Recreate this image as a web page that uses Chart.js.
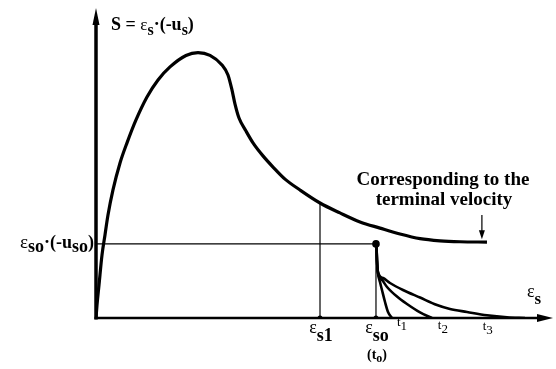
<!DOCTYPE html>
<html><head><meta charset="utf-8">
<script src="https://cdn.jsdelivr.net/npm/chart.js@4/dist/chart.umd.min.js"></script>
<style>html,body{margin:0;padding:0;background:#fff;}#wrap{width:556px;height:369px;}</style>
</head><body><div id="wrap"><canvas id="c" width="556" height="369"></canvas></div>
<script>
// Main curve S = εs·(-us) vs εs (schematic units 0..100)
const mainX = [0, 0.22, 0.66, 1.32, 1.98, 2.64, 3.74, 5.29, 6.83, 8.81, 11.23, 13.66, 16.3, 19.82, 22.47, 25.11, 27.75, 29.07, 29.96, 30.62, 31.5, 33.04, 34.58, 36.78, 38.99, 41.63, 44.93, 49.34, 53.74, 58.15, 62.56, 66.96, 71.37, 75.77, 80.18, 86.12];
const mainY = [0, 4.19, 10.65, 20.3, 26.8, 33.2, 41.3, 50.0, 56.5, 63.9, 71.3, 76.8, 81.0, 84.7, 85.6, 84.7, 81.6, 78.4, 73.5, 69.0, 64.5, 60.3, 56.5, 52.3, 48.7, 44.8, 41.3, 37.1, 33.9, 31.0, 29.0, 27.1, 25.6, 24.9, 24.6, 24.5];
// Decay curves at times t1, t2, t3
const t1X = [61.78, 61.89, 62.11, 62.55, 62.99, 63.66, 64.32, 65.2];
const t1Y = [23.55, 18.71, 14.52, 11.61, 9.03, 5.16, 1.94, 0];
const t2X = [61.78, 61.89, 62.11, 62.99, 64.1, 66.3, 68.5, 71.37, 74.0];
const t2Y = [23.55, 18.71, 14.52, 12.26, 10.0, 6.9, 4.5, 1.8, 0];
const t3X = [61.78, 61.89, 62.11, 63.22, 64.76, 67.62, 71.37, 75.11, 77.97, 81.72, 86.12, 90.53, 94.49];
const t3Y = [23.55, 18.71, 14.84, 12.9, 11.29, 9.03, 6.6, 4.19, 2.9, 1.94, 0.87, 0.23, 0];
// Key positions
const eps1 = 49.34;      // εs1
const eps0 = 61.67;      // εso
const level0 = 23.9;     // εso·(-uso)
const eps1Level = 37.1;  // curve value at εs1
const arrowX = 85.0, arrowFrom = 33.2, arrowTo = 25.4;
const tickLabels = ['εs1', 'εso'];
const tLabels = ['t1', 't2', 't3'];
const tLabelX = [67.4, 76.4, 86.3];
const tLabelY = [-2.6, -3.4, -4.0];

const pts = (xs, ys) => xs.map((x, i) => ({x, y: ys[i]}));
const black = '#000';
const curve = (data, w) => ({data, borderColor: black, borderWidth: w, pointRadius: 0, showLine: true, fill: false, cubicInterpolationMode: 'monotone'});
const thin = (data) => ({data, borderColor: black, borderWidth: 1.2, pointRadius: 0, showLine: true, fill: false, tension: 0});

const SERIF = '"Liberation Serif", "Times New Roman", serif';
function rich(ctx, x, y, parts, align) {
  let w = 0;
  parts.forEach(p => { ctx.font = p.f; p.w = ctx.measureText(p.t).width; w += p.w; });
  let cx = align === 'right' ? x - w : align === 'center' ? x - w / 2 : x;
  parts.forEach(p => { ctx.font = p.f; ctx.fillText(p.t, cx, y + (p.dy || 0)); cx += p.w; });
}
const B = s => `bold ${s}px ${SERIF}`;
const R = s => `${s}px ${SERIF}`;

const deco = {
  id: 'deco',
  afterDatasetsDraw(chart) {
    const {ctx, scales: {x, y}} = chart;
    const ox = x.getPixelForValue(0), oy = y.getPixelForValue(0);
    const topY = y.getPixelForValue(100), rightX = x.getPixelForValue(100) + 3;
    ctx.save();
    ctx.fillStyle = black; ctx.strokeStyle = black; ctx.lineCap = 'butt';
    // y axis
    ctx.lineWidth = 3.5;
    ctx.beginPath(); ctx.moveTo(ox, oy + 1.5); ctx.lineTo(ox, topY + 14); ctx.stroke();
    ctx.beginPath(); ctx.moveTo(ox, topY); ctx.lineTo(ox - 3.5, topY + 17); ctx.lineTo(ox + 3.5, topY + 17); ctx.closePath(); ctx.fill();
    // x axis
    ctx.lineWidth = 2.6;
    ctx.beginPath(); ctx.moveTo(ox - 1.5, oy); ctx.lineTo(rightX - 12, oy); ctx.stroke();
    ctx.beginPath(); ctx.moveTo(rightX, oy); ctx.lineTo(rightX - 16, oy - 4); ctx.lineTo(rightX - 16, oy + 4); ctx.closePath(); ctx.fill();
    // small arrow head for terminal velocity
    const ax = x.getPixelForValue(arrowX), ay = y.getPixelForValue(arrowTo);
    ctx.beginPath(); ctx.moveTo(ax, ay); ctx.lineTo(ax - 3, ay - 9); ctx.lineTo(ax + 3, ay - 9); ctx.closePath(); ctx.fill();

    ctx.textBaseline = 'alphabetic';
    // axis titles
    rich(ctx, 111, 30, [{t: 'S = ', f: B(18)}, {t: 'ε', f: R(17)}, {t: 's', f: B(16), dy: 5}, {t: '·(-u', f: B(18)}, {t: 's', f: B(16), dy: 5}, {t: ')', f: B(18)}], 'left');
    rich(ctx, 527, 297, [{t: 'ε', f: R(18)}, {t: 's', f: B(17), dy: 7}], 'left');
    // level label
    rich(ctx, 94, 248, [{t: 'ε', f: R(19)}, {t: 'so', f: B(18), dy: 4}, {t: '·', f: B(18)}, {t: '(-u', f: B(18)}, {t: 'so', f: B(18), dy: 4}, {t: ')', f: B(18)}], 'right');
    // x tick labels
    const tx = [eps1, eps0];
    tickLabels.forEach((lab, i) => {
      rich(ctx, x.getPixelForValue(tx[i]) + 1, 333, [{t: lab[0], f: R(18)}, {t: lab.slice(1), f: B(18), dy: 8}], 'center');
    });
    rich(ctx, x.getPixelForValue(eps0) + 1, 359, [{t: '(t', f: B(14)}, {t: 'o', f: B(12), dy: 3}, {t: ')', f: B(14)}], 'center');
    tLabels.forEach((lab, i) => {
      rich(ctx, x.getPixelForValue(tLabelX[i]), y.getPixelForValue(tLabelY[i]), [{t: lab[0], f: R(13)}, {t: lab.slice(1), f: R(13), dy: 4}], 'center');
    });
    // annotation
    ctx.font = B(19); ctx.textAlign = 'center';
    ctx.fillText('Corresponding to the', 443, 185);
    ctx.fillText('terminal velocity', 444, 205);
    ctx.restore();
  }
};

new Chart(document.getElementById('c'), {
  type: 'scatter',
  data: {
    datasets: [
      curve(pts(mainX, mainY), 3.2),
      curve(pts(t1X, t1Y), 2.6),
      curve(pts(t2X, t2Y), 2.6),
      curve(pts(t3X, t3Y), 2.6),
      thin([{x: 0, y: level0}, {x: eps0, y: level0}]),
      thin([{x: eps1, y: 0}, {x: eps1, y: eps1Level}]),
      thin([{x: eps0, y: 0}, {x: eps0, y: level0}]),
      thin([{x: arrowX, y: arrowFrom}, {x: arrowX, y: arrowTo + 2}]),
      {data: [{x: eps0, y: level0}], pointRadius: 3.8, pointBackgroundColor: black, pointBorderWidth: 0, showLine: false},
      {data: [{x: eps1, y: 0}, {x: eps0, y: 0}], pointRadius: 2.5, pointBackgroundColor: black, pointBorderWidth: 0, showLine: false}
    ]
  },
  options: {
    responsive: false, animation: false, devicePixelRatio: 1,
    layout: {padding: {left: 96, right: 6, top: 8, bottom: 51}},
    plugins: {legend: {display: false}, tooltip: {enabled: false}},
    scales: {
      x: {type: 'linear', min: 0, max: 100, display: false},
      y: {type: 'linear', min: 0, max: 100, display: false}
    }
  },
  plugins: [deco]
});
</script></body></html>
